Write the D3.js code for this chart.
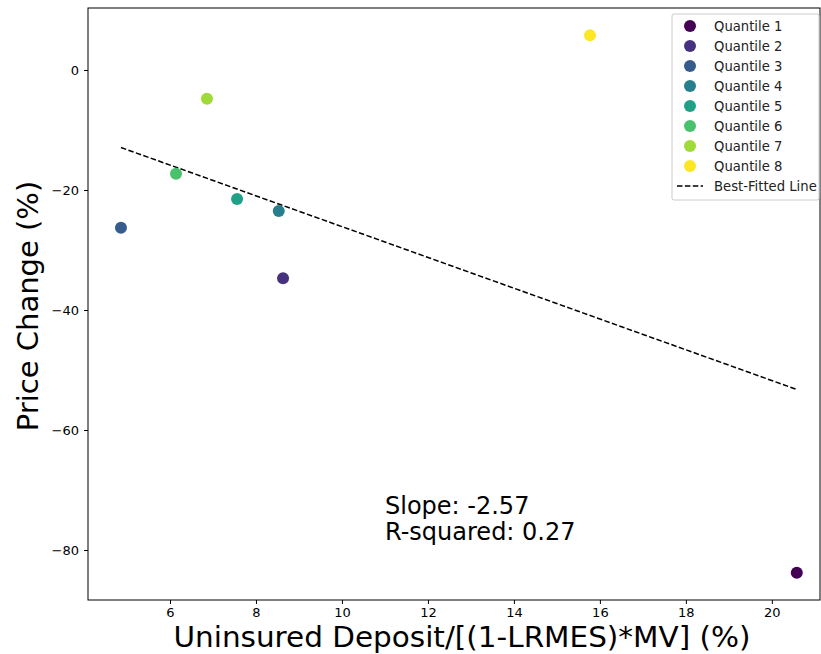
<!DOCTYPE html>
<html>
<head>
<meta charset="utf-8">
<script src="https://cdn.jsdelivr.net/npm/d3@7"></script>
<style>
  body { margin: 0; background: #fff; }
  text { font-family: "DejaVu Sans", sans-serif; }
</style>
</head>
<body>
<div id="chart"></div>
<script>
// Quantile data
const labels = ["Quantile 1", "Quantile 2", "Quantile 3", "Quantile 4",
                "Quantile 5", "Quantile 6", "Quantile 7", "Quantile 8"];
const xVals = [20.58, 8.63, 4.86, 8.53, 7.56, 6.14, 6.86, 15.77];
const yVals = [-83.8, -34.7, -26.3, -23.5, -21.5, -17.3, -4.8, 5.8];
const colors = ["#440154", "#46327e", "#365c8d", "#277f8e",
                "#1fa187", "#4ac16d", "#a0da39", "#fde725"];
const xTicks = [6, 8, 10, 12, 14, 16, 18, 20];
const yTicks = [0, -20, -40, -60, -80];

const W = 821, H = 654;
const margin = { left: 88, right: 1, top: 8, bottom: 54 };

const svg = d3.select("#chart").append("svg")
  .attr("width", W)
  .attr("height", H);

const x = d3.scaleLinear().domain([4.093, 21.12]).range([margin.left, W - margin.right]);
const y = d3.scaleLinear().domain([-88.33, 10.33]).range([H - margin.bottom, margin.top]);

// Least squares fit
const mx = d3.mean(xVals), my = d3.mean(yVals);
let sxy = 0, sxx = 0, syy = 0;
xVals.forEach((v, i) => {
  sxy += (v - mx) * (yVals[i] - my);
  sxx += (v - mx) * (v - mx);
  syy += (yVals[i] - my) * (yVals[i] - my);
});
const slope = sxy / sxx;
const intercept = my - slope * mx;
const r2 = (sxy * sxy) / (sxx * syy);

// Axes
const fmt = d => d < 0 ? "\u2212" + Math.abs(d) : String(d);
svg.append("g")
  .attr("transform", `translate(0,${H - margin.bottom})`)
  .call(d3.axisBottom(x).tickValues(xTicks).tickFormat(fmt).tickSize(4).tickPadding(4))
  .call(g => g.selectAll("text").attr("font-size", 13).attr("fill", "#000").attr("font-family", "DejaVu Sans"));

svg.append("g")
  .attr("transform", `translate(${margin.left},0)`)
  .call(d3.axisLeft(y).tickValues(yTicks).tickFormat(fmt).tickSize(4).tickPadding(5))
  .call(g => g.selectAll("text").attr("font-size", 13).attr("fill", "#000").attr("font-family", "DejaVu Sans"));

svg.selectAll(".domain").remove();
svg.append("rect")
  .attr("x", margin.left).attr("y", margin.top)
  .attr("width", W - margin.right - margin.left)
  .attr("height", H - margin.bottom - margin.top)
  .attr("fill", "none").attr("stroke", "#000").attr("stroke-width", 1);

// Fitted line
const x0 = d3.min(xVals), x1 = d3.max(xVals);
svg.append("line")
  .attr("x1", x(x0)).attr("y1", y(intercept + slope * x0))
  .attr("x2", x(x1)).attr("y2", y(intercept + slope * x1))
  .attr("stroke", "#000").attr("stroke-width", 1.5)
  .attr("stroke-dasharray", "5.5,2.4");

// Points
svg.selectAll("circle.pt")
  .data(xVals)
  .enter().append("circle")
  .attr("class", "pt")
  .attr("cx", d => x(d))
  .attr("cy", (d, i) => y(yVals[i]))
  .attr("r", 6)
  .attr("fill", (d, i) => colors[i]);

// Stats text
svg.append("text")
  .attr("x", 385).attr("y", 514)
  .attr("font-size", 24)
  .text(`Slope: ${slope.toFixed(2)}`);
svg.append("text")
  .attr("x", 385).attr("y", 540)
  .attr("font-size", 24)
  .text(`R-squared: ${r2.toFixed(2)}`);

// Axis titles
svg.append("text")
  .attr("x", 462).attr("y", 647)
  .attr("text-anchor", "middle")
  .attr("font-size", 28)
  .attr("textLength", 577)
  .attr("lengthAdjust", "spacingAndGlyphs")
  .text("Uninsured Deposit/[(1-LRMES)*MV] (%)");

svg.append("text")
  .attr("transform", "translate(38,306) rotate(-90)")
  .attr("text-anchor", "middle")
  .attr("font-size", 29)
  .text("Price Change (%)");

// Legend
const lg = svg.append("g").attr("transform", "translate(672,14)");
lg.append("rect")
  .attr("width", 147).attr("height", 186)
  .attr("rx", 2)
  .attr("fill", "#fff").attr("stroke", "#ccc");

labels.forEach((lab, i) => {
  const cy = 12 + i * 20;
  lg.append("circle").attr("cx", 18).attr("cy", cy).attr("r", 6).attr("fill", colors[i]);
  lg.append("text").attr("x", 42).attr("y", cy + 4.5).attr("font-size", 13.2).attr("fill", "#222").text(lab);
});
const ly = 12 + 8 * 20;
lg.append("line")
  .attr("x1", 5).attr("x2", 31).attr("y1", ly).attr("y2", ly)
  .attr("stroke", "#000").attr("stroke-width", 1.5).attr("stroke-dasharray", "5.5,2.4");
lg.append("text").attr("x", 42).attr("y", ly + 4.5).attr("font-size", 13.2).attr("fill", "#222").text("Best-Fitted Line");
</script>
</body>
</html>
